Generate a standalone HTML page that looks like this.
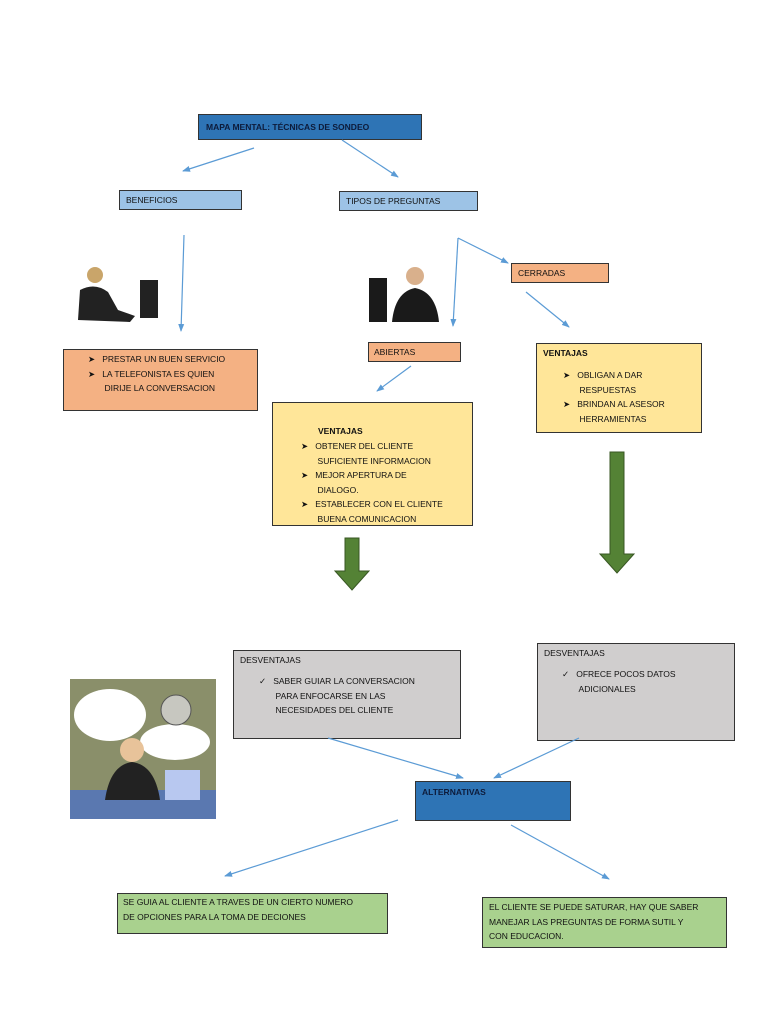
<!DOCTYPE html>
<html><head><meta charset="utf-8"><style>
body{margin:0;width:768px;height:1024px;background:#fff;position:relative;font-family:"Liberation Sans",sans-serif;font-size:8.5px;color:#111;overflow:hidden}
.b{position:absolute;box-sizing:border-box;border:1px solid #333;}
.t{position:absolute;line-height:14.5px;white-space:nowrap}
.bl{background:#2e74b5;font-weight:bold;color:#0d1b3a}
.lb{background:#9dc3e6}
.or{background:#f4b183}
.ye{background:#ffe699}
.gr{background:#d0cece}
.gn{background:#a9d18e}
</style></head><body>
<div class="b bl" style="left:198px;top:114px;width:224px;height:26px"><span class="t" style="left:7px;top:5px">MAPA MENTAL: TÉCNICAS DE SONDEO</span></div>
<div class="b lb" style="left:119px;top:190px;width:123px;height:20px"><span class="t" style="left:6px;top:2px">BENEFICIOS</span></div>
<div class="b lb" style="left:339px;top:191px;width:139px;height:20px"><span class="t" style="left:6px;top:2px">TIPOS DE PREGUNTAS</span></div>
<div class="b or" style="left:511px;top:263px;width:98px;height:20px"><span class="t" style="left:6px;top:2px">CERRADAS</span></div>
<div class="b or" style="left:368px;top:342px;width:93px;height:20px"><span class="t" style="left:5px;top:2px">ABIERTAS</span></div>
<div class="b or" style="left:63px;top:349px;width:195px;height:62px">
<span class="t" style="left:24px;top:2px">➤&nbsp;&nbsp;&nbsp;PRESTAR UN BUEN SERVICIO<br>➤&nbsp;&nbsp;&nbsp;LA TELEFONISTA ES QUIEN<br>&nbsp;&nbsp;&nbsp;&nbsp;&nbsp;&nbsp;&nbsp;DIRIJE LA CONVERSACION</span></div>
<div class="b ye" style="left:272px;top:402px;width:201px;height:124px">
<span class="t" style="left:45px;top:21px"><b>VENTAJAS</b></span>
<span class="t" style="left:28px;top:36px">➤&nbsp;&nbsp;&nbsp;OBTENER DEL CLIENTE<br>&nbsp;&nbsp;&nbsp;&nbsp;&nbsp;&nbsp;&nbsp;SUFICIENTE INFORMACION<br>➤&nbsp;&nbsp;&nbsp;MEJOR APERTURA DE<br>&nbsp;&nbsp;&nbsp;&nbsp;&nbsp;&nbsp;&nbsp;DIALOGO.<br>➤&nbsp;&nbsp;&nbsp;ESTABLECER CON EL CLIENTE<br>&nbsp;&nbsp;&nbsp;&nbsp;&nbsp;&nbsp;&nbsp;BUENA COMUNICACION</span></div>
<div class="b ye" style="left:536px;top:343px;width:166px;height:90px">
<span class="t" style="left:6px;top:2px"><b>VENTAJAS</b></span>
<span class="t" style="left:26px;top:24px">➤&nbsp;&nbsp;&nbsp;OBLIGAN A DAR<br>&nbsp;&nbsp;&nbsp;&nbsp;&nbsp;&nbsp;&nbsp;RESPUESTAS<br>➤&nbsp;&nbsp;&nbsp;BRINDAN AL ASESOR<br>&nbsp;&nbsp;&nbsp;&nbsp;&nbsp;&nbsp;&nbsp;HERRAMIENTAS</span></div>
<div class="b gr" style="left:233px;top:650px;width:228px;height:89px">
<span class="t" style="left:6px;top:2px">DESVENTAJAS</span>
<span class="t" style="left:25px;top:23px">✓&nbsp;&nbsp;&nbsp;SABER GUIAR LA CONVERSACION<br>&nbsp;&nbsp;&nbsp;&nbsp;&nbsp;&nbsp;&nbsp;PARA ENFOCARSE EN LAS<br>&nbsp;&nbsp;&nbsp;&nbsp;&nbsp;&nbsp;&nbsp;NECESIDADES DEL  CLIENTE</span></div>
<div class="b gr" style="left:537px;top:643px;width:198px;height:98px">
<span class="t" style="left:6px;top:2px">DESVENTAJAS</span>
<span class="t" style="left:24px;top:23px">✓&nbsp;&nbsp;&nbsp;OFRECE POCOS DATOS<br>&nbsp;&nbsp;&nbsp;&nbsp;&nbsp;&nbsp;&nbsp;ADICIONALES</span></div>
<div class="b bl" style="left:415px;top:781px;width:156px;height:40px"><span class="t" style="left:6px;top:3px">ALTERNATIVAS</span></div>
<div class="b gn" style="left:117px;top:893px;width:271px;height:41px"><span class="t" style="left:5px;top:1px">SE GUIA AL CLIENTE A TRAVES DE  UN CIERTO NUMERO<br>DE OPCIONES PARA LA TOMA DE  DECIONES</span></div>
<div class="b gn" style="left:482px;top:897px;width:245px;height:51px"><span class="t" style="left:6px;top:2px">EL CLIENTE SE PUEDE SATURAR, HAY QUE SABER<br>MANEJAR  LAS  PREGUNTAS  DE  FORMA  SUTIL  Y<br>CON EDUCACION.</span></div>
<svg width="768" height="1024" style="position:absolute;left:0;top:0">
<defs><marker id="a" markerWidth="8" markerHeight="8" refX="7" refY="4" orient="auto" markerUnits="userSpaceOnUse"><path d="M0,1 L8,4 L0,7 z" fill="#5b9bd5"/></marker></defs>
<g stroke="#5b9bd5" stroke-width="1.2" marker-end="url(#a)">
<line x1="254" y1="148" x2="183" y2="171"/><line x1="342" y1="140" x2="398" y2="177"/>
<line x1="184" y1="235" x2="181" y2="331"/><line x1="458" y1="238" x2="453" y2="326"/>
<line x1="458" y1="238" x2="508" y2="263"/><line x1="526" y1="292" x2="569" y2="327"/>
<line x1="411" y1="366" x2="377" y2="391"/><line x1="328" y1="738" x2="463" y2="778"/>
<line x1="579" y1="738" x2="494" y2="778"/><line x1="398" y1="820" x2="225" y2="876"/>
<line x1="511" y1="825" x2="609" y2="879"/></g>
<path d="M345,538 h14 v33 h10 l-17,19 l-17,-19 h10z" fill="#548235" stroke="#385723"/>
<path d="M610,452 h14 v102 h10 l-17,19 l-17,-19 h10z" fill="#548235" stroke="#385723"/>
<g>
<rect x="76" y="262" width="86" height="60" fill="#fff"/>
<rect x="140" y="280" width="18" height="38" fill="#222"/>
<circle cx="95" cy="275" r="8" fill="#c9a56a"/>
<path d="M78,320 L80,290 Q95,282 108,292 L118,310 L135,316 L130,322z" fill="#222"/>
<rect x="369" y="260" width="70" height="62" fill="#fff"/>
<rect x="369" y="278" width="18" height="44" fill="#1a1a1a"/>
<circle cx="415" cy="276" r="9" fill="#d9b08c"/>
<path d="M392,322 Q395,292 415,288 Q436,292 439,322z" fill="#1a1a1a"/>
<rect x="70" y="679" width="146" height="140" fill="#8a8f6a"/>
<rect x="70" y="790" width="146" height="29" fill="#5a78b0"/>
<ellipse cx="110" cy="715" rx="36" ry="26" fill="#fff"/>
<ellipse cx="175" cy="742" rx="35" ry="18" fill="#fff"/>
<circle cx="176" cy="710" r="15" fill="#c7c7c0" stroke="#555"/>
<circle cx="132" cy="750" r="12" fill="#e8c39a"/>
<path d="M105,800 Q110,765 132,762 Q155,765 160,800z" fill="#222"/>
<rect x="165" y="770" width="35" height="30" fill="#b8c8f0"/>
</g>
</svg>
</body></html>
